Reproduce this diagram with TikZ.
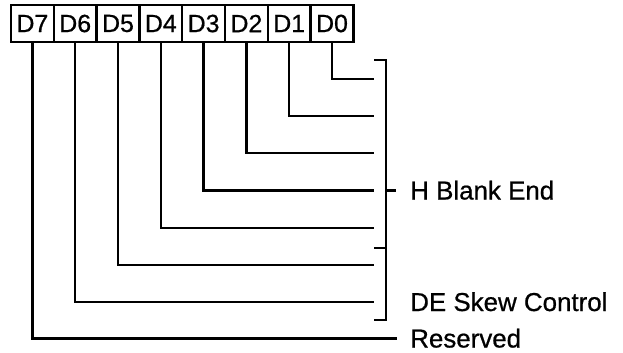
\documentclass[tikz,border=0pt]{standalone}
\usepackage{fontspec}
\setmainfont{Liberation Sans}[FakeBold=0.7]
\newfontfamily\lblfont{Liberation Sans}[FakeBold=0.7]
\begin{document}
\begin{tikzpicture}[x=1bp,y=-1bp,line width=2.5bp,
  bitbox/.style={draw,line width=2.5bp,minimum width=42.8bp,minimum height=37bp,inner sep=0pt,
    font=\lblfont\fontsize{25}{27}\selectfont},
  lbl/.style={anchor=base west,inner sep=0pt,font=\lblfont\fontsize{26}{28}\selectfont},
  wire/.style={line width=2.5bp,line join=miter}]
\useasboundingbox (0,0) rectangle (623,352);
% register boxes
\foreach \n [count=\i from 0] in {7,6,5,4,3,2,1,0} {
  \node[bitbox] (d\n) at ({11+42.8*(\i+0.5)},23.5) {D\n};
}
% wire end points
\foreach \n/\y in {0/79,1/116,2/153,3/190.5,4/228,5/265,6/302} {
  \coordinate (e\n) at (374,\y);
}
\coordinate (e7) at (397,338.5);
\foreach \n in {0,...,7} {
  \draw[wire] (d\n.south) |- (e\n);
}
% bracket
\coordinate (bt) at (374,60);
\coordinate (bm) at (374,248);
\coordinate (bb) at (374,320);
\coordinate (ht) at (396,190.5);
\draw[wire] (bt) -| (386,320) -- (bb);
\draw[wire] (bm) -- (386,248);
\draw[wire] (386,190.5) -- (ht);
% labels
\node[lbl] (hbe) at (409,199.5) {H Blank End};
\node[lbl] (dsc) at (409,311) {DE Skew Control};
\node[lbl] (res) at (409,347.5) {Reserved};
\end{tikzpicture}
\end{document}
